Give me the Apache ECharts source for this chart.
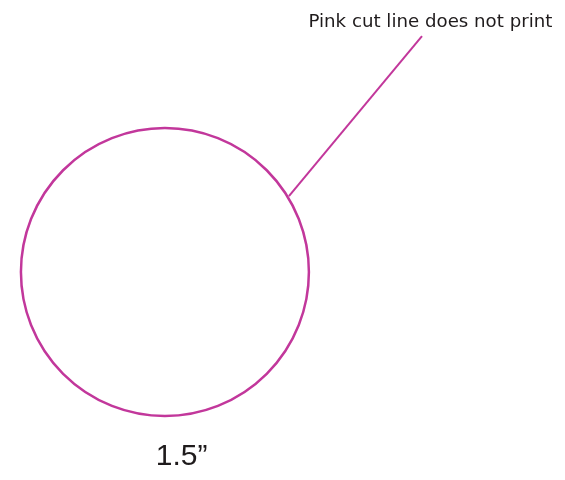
<!DOCTYPE html>
<html>
<head>
<meta charset="utf-8">
<script src="https://cdn.jsdelivr.net/npm/echarts@6/dist/echarts.min.js"></script>
<style>html,body{margin:0;padding:0;background:#fff}#c{width:565px;height:480px}</style>
</head>
<body>
<div id="c"></div>
<script>
// Diagram data in inches (1.5" cut circle)
var diameterIn = 1.5;
var circleCenter = [0.859, 1.417];
var leaderLine = [[1.505, 1.021], [2.198, 0.188]];
var labelTexts = ['Pink cut line does not print', '1.5\u201D'];
var labelPositions = [[2.242, 0.118], [0.946, 2.378]];
var labelSizes = [18.2, 30];
var labelFonts = ['DejaVu Sans, sans-serif', 'Liberation Sans, Arial, sans-serif'];
var viewWidthIn = 2.943;
var viewHeightIn = 2.5;

var pink = '#c2379b';
var chart = echarts.init(document.getElementById('c'));

function build(symSize) {
  return {
    animation: false,
    grid: {left: 0, right: 0, top: 0, bottom: 0},
    xAxis: {type: 'value', min: 0, max: viewWidthIn, show: false},
    yAxis: {type: 'value', min: 0, max: viewHeightIn, inverse: true, show: false},
    series: [
      {
        type: 'scatter',
        data: [circleCenter],
        symbol: 'circle',
        symbolSize: symSize,
        itemStyle: {color: 'rgba(0,0,0,0)', borderColor: pink, borderWidth: 2.5, opacity: 1},
        silent: true
      },
      {
        type: 'line',
        data: leaderLine,
        symbol: 'none',
        lineStyle: {color: pink, width: 2},
        silent: true
      },
      {
        type: 'scatter',
        symbolSize: 0,
        silent: true,
        itemStyle: {opacity: 1},
        data: labelTexts.map(function (t, i) {
          return {
            value: labelPositions[i],
            label: {
              show: true,
              position: 'inside',
              formatter: t,
              fontFamily: labelFonts[i],
              fontSize: labelSizes[i],
              color: '#1f1b1c',
              align: 'center',
              verticalAlign: 'middle'
            }
          };
        })
      }
    ]
  };
}

chart.setOption(build(10));
var p0 = chart.convertToPixel({gridIndex: 0}, [0, 0]);
var p1 = chart.convertToPixel({gridIndex: 0}, [diameterIn, 0]);
chart.setOption(build(p1[0] - p0[0]));
</script>
</body>
</html>
